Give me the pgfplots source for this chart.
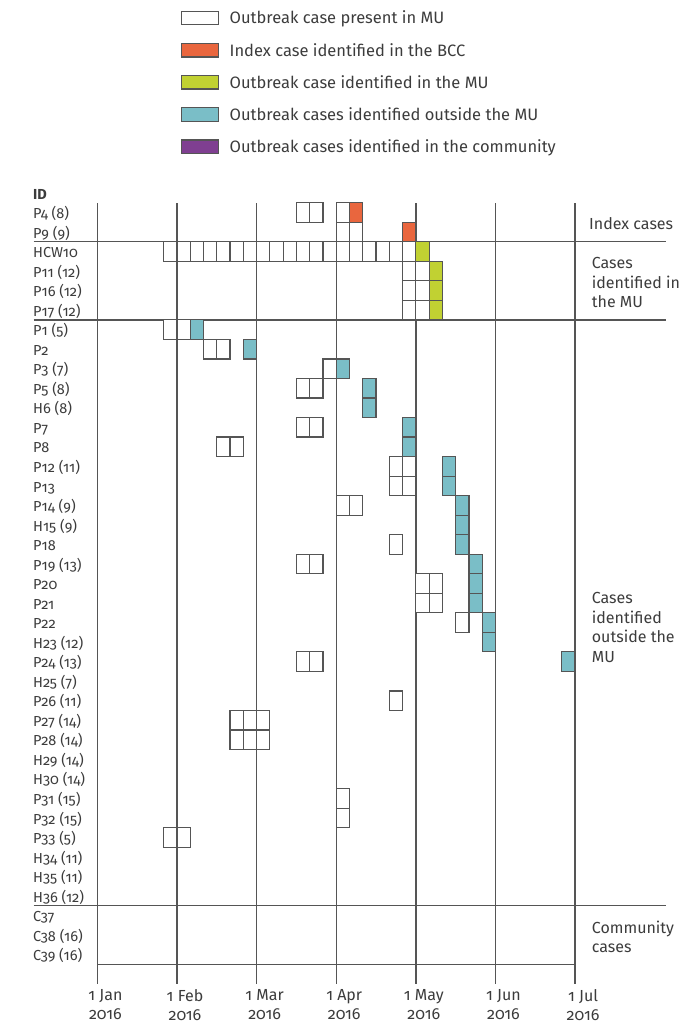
\documentclass[border=0pt]{standalone}
\usepackage{fontspec}
\setmainfont{Fira Sans}[Numbers=OldStyle]
\usepackage{pgfplots}
\pgfplotsset{compat=1.18}
\usepackage{pgfplotstable}
\definecolor{lc}{RGB}{85,85,85}
\definecolor{txt}{RGB}{60,60,60}
\definecolor{orangeC}{RGB}{233,102,62}
\definecolor{greenC}{RGB}{193,209,50}
\definecolor{tealC}{RGB}{122,190,199}
\definecolor{purpleC}{RGB}{127,63,145}
\newcommand\lgfont{\fontsize{16.5}{19}\selectfont}
\newcommand\rowfont{\fontsize{14.5}{17}\selectfont}
\newcommand\rfont{\fontsize{16}{19.5}\selectfont}
\newcommand\tfont{\fontsize{16}{19}\selectfont}
\pgfdeclareplotmark{cell}{\pgfpathrectangle{\pgfpoint{-6.635pt}{-9.765pt}}{\pgfpoint{13.27pt}{19.53pt}}\pgfusepathqfillstroke}

% cell centres: x = week slot (6 per month, 0 = 1 Jan), y = -(row)
\pgfplotstableread{
x y
15.5 -0.5
16.5 -0.5
18.5 -0.5
18.5 -1.5
19.5 -1.5
5.5 -2.5
6.5 -2.5
7.5 -2.5
8.5 -2.5
9.5 -2.5
10.5 -2.5
11.5 -2.5
12.5 -2.5
13.5 -2.5
14.5 -2.5
15.5 -2.5
16.5 -2.5
17.5 -2.5
18.5 -2.5
19.5 -2.5
20.5 -2.5
21.5 -2.5
22.5 -2.5
23.5 -2.5
23.5 -3.5
24.5 -3.5
23.5 -4.5
24.5 -4.5
23.5 -5.5
24.5 -5.5
5.5 -6.5
6.5 -6.5
8.5 -7.5
9.5 -7.5
17.5 -8.5
15.5 -9.5
16.5 -9.5
15.5 -11.5
16.5 -11.5
9.5 -12.5
10.5 -12.5
22.5 -13.5
23.5 -13.5
22.5 -14.5
23.5 -14.5
18.5 -15.5
19.5 -15.5
22.5 -17.5
15.5 -18.5
16.5 -18.5
24.5 -19.5
25.5 -19.5
24.5 -20.5
25.5 -20.5
27.5 -21.5
15.5 -23.5
16.5 -23.5
22.5 -25.5
10.5 -26.5
11.5 -26.5
12.5 -26.5
10.5 -27.5
11.5 -27.5
12.5 -27.5
18.5 -30.5
18.5 -31.5
5.5 -32.5
6.5 -32.5
}\whitecells
\pgfplotstableread{
x y
19.5 -0.5
23.5 -1.5
}\orangecells
\pgfplotstableread{
x y
24.5 -2.5
25.5 -3.5
25.5 -4.5
25.5 -5.5
}\greencells
\pgfplotstableread{
x y
7.5 -6.5
11.5 -7.5
18.5 -8.5
20.5 -9.5
20.5 -10.5
23.5 -11.5
23.5 -12.5
26.5 -13.5
26.5 -14.5
27.5 -15.5
27.5 -16.5
27.5 -17.5
28.5 -18.5
28.5 -19.5
28.5 -20.5
29.5 -21.5
29.5 -22.5
35.5 -23.5
}\tealcells

\begin{document}
\begin{tikzpicture}
\begin{axis}[
  x=13.27pt, y=19.53pt,
  xmin=0, xmax=36, ymin=-40, ymax=0,
  clip=false,
  axis line style={draw=none},
  tick style={draw=none},
  major tick length=0pt,
  xtick={0,6,...,36},
  xticklabels={{1 Jan\\2016},{1 Feb\\2016},{1 Mar\\2016},{1 Apr\\2016},{1 May\\2016},{1 Jun\\2016},{1 Jul\\2016}},
  xticklabel style={font=\tfont, align=center, xshift=8pt, yshift=-2pt, text=txt},
  xmajorgrids,
  grid style={lc, line width=1.35pt},
  ytick={-38.5,-37.5,...,-0.5},
  yticklabels={C39 (16),C38 (16),C37,H36 (12),H35 (11),H34 (11),P33 (5),P32 (15),P31 (15),H30 (14),H29 (14),P28 (14),P27 (14),P26 (11),H25 (7),P24 (13),H23 (12),P22,P21,P20,P19 (13),P18,H15 (9),P14 (9),P13,P12 (11),P8,P7,H6 (8),P5 (8),P3 (7),P2,P1 (5),P17 (12),P16 (12),P11 (12),HCW10,P9 (9),P4 (8)},
  yticklabel style={font=\rowfont, anchor=mid west, inner sep=0pt, xshift=-64.4pt, yshift=-3.5pt, text=txt},
  legend cell align=left,
  legend image code/.code={\draw[#1, line width=1.2pt] (0pt,-6.65pt) rectangle (37pt,6.65pt);},
  legend style={draw=none, fill=none, inner sep=0pt, outer sep=0pt,
    at={(axis cs:6.30,9.95)}, anchor=north west, row sep=12.5pt,
    /tikz/every odd column/.append style={column sep=10.5pt},
    nodes={inner sep=0pt, text height=15.6pt, text depth=4pt, font=\lgfont, text=txt}},
]
% invisible frame giving the picture its size
\path (axis cs:-7.34,10.38) rectangle (axis cs:44.96,-42.26);

% section separators and bottom rule
\addplot[lc, line width=1.4pt, forget plot] coordinates {(-4.8,-2) (42.85,-2)};
\addplot[lc, line width=1.4pt, forget plot] coordinates {(-4.8,-6) (42.85,-6)};
\addplot[lc, line width=1.4pt, forget plot] coordinates {(-4.8,-36) (42.85,-36)};
\addplot[lc, line width=1.4pt, forget plot] coordinates {(0,-39) (36,-39)};

% cells
\addplot[only marks, mark=cell, mark options={draw=lc, fill=white, line width=1.2pt}, forget plot] table {\whitecells};
\addplot[only marks, mark=cell, mark options={draw=lc, fill=orangeC, line width=1.2pt}, forget plot] table {\orangecells};
\addplot[only marks, mark=cell, mark options={draw=lc, fill=greenC, line width=1.2pt}, forget plot] table {\greencells};
\addplot[only marks, mark=cell, mark options={draw=lc, fill=tealC, line width=1.2pt}, forget plot] table {\tealcells};

\addlegendimage{draw=lc, fill=white}
\addlegendentry{Outbreak case present in MU}
\addlegendimage{draw=lc, fill=orangeC}
\addlegendentry{Index case identified in the BCC}
\addlegendimage{draw=lc, fill=greenC}
\addlegendentry{Outbreak case identified in the MU}
\addlegendimage{draw=lc, fill=tealC}
\addlegendentry{Outbreak cases identified outside the MU}
\addlegendimage{draw=lc, fill=purpleC}
\addlegendentry{Outbreak cases identified in the community}

% header and section labels
\node[anchor=mid west, inner sep=0pt, yshift=-3.5pt, font=\rowfont\bfseries, text=txt] at (axis cs:-4.85,0.5) {ID};
\node[anchor=west, inner sep=0pt, font=\rfont, text=txt, align=left] at (axis cs:37.05,-1.06) {Index cases};
\node[anchor=west, inner sep=0pt, font=\rfont, text=txt, align=left] at (axis cs:37.25,-4.1) {Cases\\identified in\\the MU};
\node[anchor=west, inner sep=0pt, font=\rfont, text=txt, align=left] at (axis cs:37.25,-21.75) {Cases\\identified\\outside the\\MU};
\node[anchor=west, inner sep=0pt, font=\rfont, text=txt, align=left] at (axis cs:37.25,-37.6) {Community\\cases};
\end{axis}
\end{tikzpicture}
\end{document}
